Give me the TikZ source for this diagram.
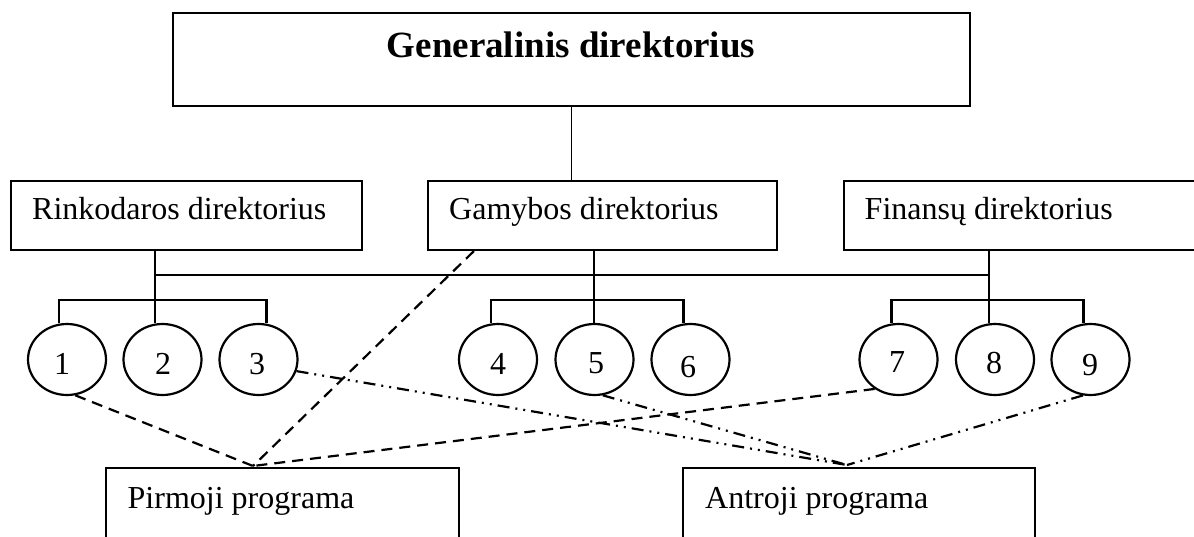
\documentclass[tikz,border=0pt]{standalone}
\usepackage{fontspec}
\setmainfont{Liberation Serif}
\usetikzlibrary{shapes.geometric}
\begin{document}
\begin{tikzpicture}[x=1pt,y=-1pt,
  box/.style={draw,line width=2.2pt,rectangle,inner sep=0pt},
  unit/.style={draw,line width=2.2pt,ellipse,inner sep=0pt,
    minimum width=78pt,minimum height=71pt},
  lbl/.style={inner sep=0pt,anchor=base west,font=\fontsize{32pt}{38pt}\selectfont},
  num/.style={inner sep=0pt,anchor=center,font=\fontsize{32pt}{38pt}\selectfont},
  tree/.style={line width=2.2pt},
  link/.style={line width=2.2pt,dash pattern=on 11pt off 7pt},
  link2/.style={line width=2.2pt,dash pattern=on 12pt off 6pt on 2pt off 6pt on 2pt off 6pt}]
\useasboundingbox (0,0) rectangle (1194,537);
\clip (0,0) rectangle (1194,537);

% director boxes
\node[box,minimum width=797pt,minimum height=93pt] (gen) at (571.5,59.5) {};
\node[inner sep=0pt,anchor=base,font=\fontsize{37pt}{44pt}\selectfont\bfseries]
  (gent) at (571,58) {Generalinis direktorius};

\node[box,minimum width=351pt,minimum height=69pt] (rink) at (186.5,215.5) {};
\node[lbl] (rinkt) at (32,220) {Rinkodaros direktorius};
\node[box,minimum width=349pt,minimum height=69pt] (gam) at (602.5,215.5) {};
\node[lbl] (gamt) at (449,220) {Gamybos direktorius};
\node[box,minimum width=380pt,minimum height=69pt] (fin) at (1034,215.5) {};
\node[lbl] (fint) at (864.5,220) {Finansų direktorius};

% units
\node[unit] (c1) at (67,359.5) {};
\node[unit] (c2) at (162.5,359.5) {};
\node[unit] (c3) at (258.5,359.5) {};
\node[unit] (c4) at (498,359.5) {};
\node[unit] (c5) at (594.5,359.5) {};
\node[unit] (c6) at (690.5,359.5) {};
\node[unit] (c7) at (898.5,359.5) {};
\node[unit] (c8) at (995,359.5) {};
\node[unit] (c9) at (1090.5,359.5) {};
\node[num] (n1) at (62,364) {1};
\node[num] (n2) at (163,364) {2};
\node[num] (n3) at (257,364) {3};
\node[num] (n4) at (498,364) {4};
\node[num] (n5) at (596,363) {5};
\node[num] (n6) at (688,367) {6};
\node[num] (n7) at (897,362) {7};
\node[num] (n8) at (994,363) {8};
\node[num] (n9) at (1090,365) {9};

% programme boxes (open at the bottom)
\node[box,minimum width=353pt,minimum height=100pt] (pir) at (282.5,518) {};
\node[lbl] (pirt) at (127.5,508) {Pirmoji programa};
\node[box,minimum width=352pt,minimum height=100pt] (ant) at (859,518) {};
\node[lbl] (antt) at (705,508) {Antroji programa};

% tree coordinates
\coordinate (bus) at (0,275);
\coordinate (hubA) at (155,300);
\coordinate (hubB) at (594,300);
\coordinate (hubC) at (989,300);
\coordinate (gamfoot) at ([xshift=47pt]gam.south west);
\coordinate (p1) at (253,466);
\coordinate (p2) at (847,465);

% hierarchy
\draw[line width=1.4pt] (gen.south) -- (gen.south |- gam.north);
\draw[tree] (rink.south -| hubA) -- (hubA |- c2.north);
\draw[tree] (gam.south -| hubB) -- (hubB |- c5.north);
\draw[tree] (fin.south -| hubC) -- (hubC |- c8.north);
\draw[tree] (hubA |- bus) -- (hubC |- bus);
\draw[tree] ([xshift=-8pt]c1.north) |- (hubA) -| ([xshift=8pt]c3.north);
\draw[tree] ([xshift=-7pt]c4.north) |- (hubB) -| ([xshift=-7pt]c6.north);
\draw[tree] ([xshift=-7pt]c7.north) |- (hubC) -| ([xshift=-7pt]c9.north);

% programme links
\draw[link] (c1.-77) -- (p1);
\draw[link] (gamfoot) -- (p1);
\draw[link] (c7.231) -- (p1);
\draw[link2] (c3.-17) -- (p2);
\draw[link2] (c5.-77) -- (p2);
\draw[link2] (c9.258) -- (p2);
\end{tikzpicture}
\end{document}
